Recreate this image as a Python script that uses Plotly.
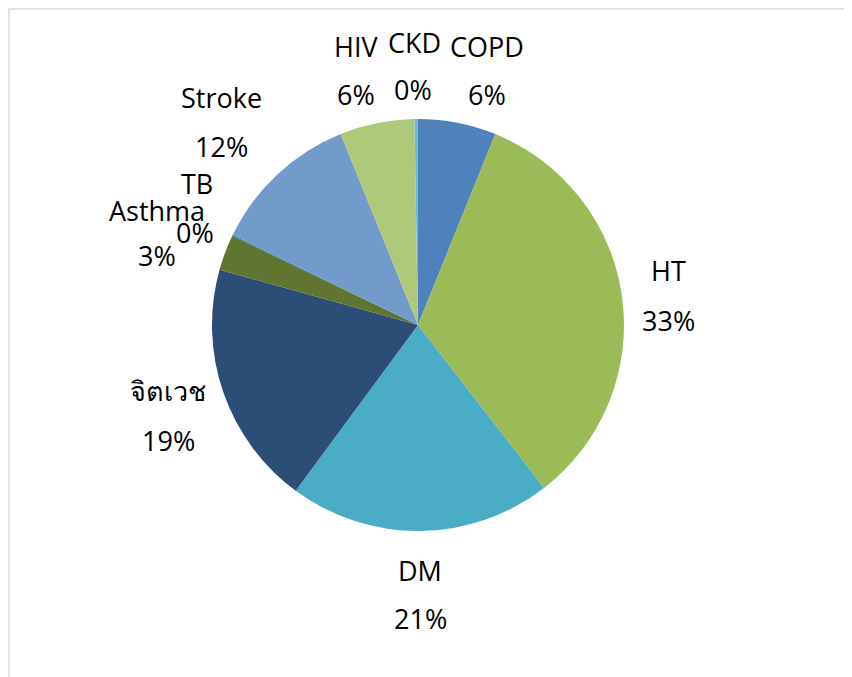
import plotly.graph_objects as go

categories = ["COPD", "HT", "DM", "จิตเวช", "Asthma", "TB", "Stroke", "HIV", "CKD"]
values = [22, 120, 74, 69, 10, 0.3, 42, 21, 1]
colors = ["#4f81bd", "#9bbb59", "#4bacc6", "#2c4d75", "#5f7530", "#276a7c", "#729aca", "#afc97a", "#6fbdd1"]

# label placement (page pixels): (label_x, label_y, percent_x, percent_y)
label_pos = {
    "COPD": (487, 46, 487, 94),
    "HT": (668, 270, 668, 320),
    "DM": (420, 570, 420, 618),
    "จิตเวช": (168, 390, 168, 440),
    "Asthma": (157, 210, 157, 255),
    "TB": (197, 184, 195, 233),
    "Stroke": (221, 98, 221, 146),
    "HIV": (356, 46, 356, 94),
    "CKD": (414, 43, 413, 89),
}

W, H = 852, 677
OFF = 8  # page body offset
cx, cy, r = 418 - OFF, 325 - OFF, 206

fig = go.Figure(go.Pie(
    labels=categories,
    values=values,
    sort=False,
    direction="clockwise",
    rotation=0,
    marker=dict(colors=colors, line=dict(color="white", width=0)),
    textinfo="none",
    showlegend=False,
    hoverinfo="label+percent",
    domain=dict(x=[(cx - r) / W, (cx + r) / W], y=[(H - cy - r) / H, (H - cy + r) / H]),
))

total = sum(values)
font = dict(size=27, color="black", family="Open Sans, Noto Sans, sans-serif")
annotations = []
for cat, v in zip(categories, values):
    lx, ly, px, py = label_pos[cat]
    pct = f"{round(100 * v / total):d}%"
    for text, x, y in ((cat, lx, ly), (pct, px, py)):
        annotations.append(dict(
            text=text, x=(x - OFF) / W, y=1 - (y - OFF) / H, xref="paper", yref="paper",
            xanchor="center", yanchor="middle", showarrow=False, font=font,
        ))

fig.update_layout(
    width=W, height=H,
    margin=dict(l=0, r=0, t=0, b=0),
    paper_bgcolor="white",
    annotations=annotations,
    shapes=[dict(type="rect", xref="paper", yref="paper", x0=1 / W, x1=1.02,
                 y0=-0.02, y1=1 - 1 / H,
                 line=dict(color="#d9d9d9", width=1.5))],
)

fig.write_html("out.html")
